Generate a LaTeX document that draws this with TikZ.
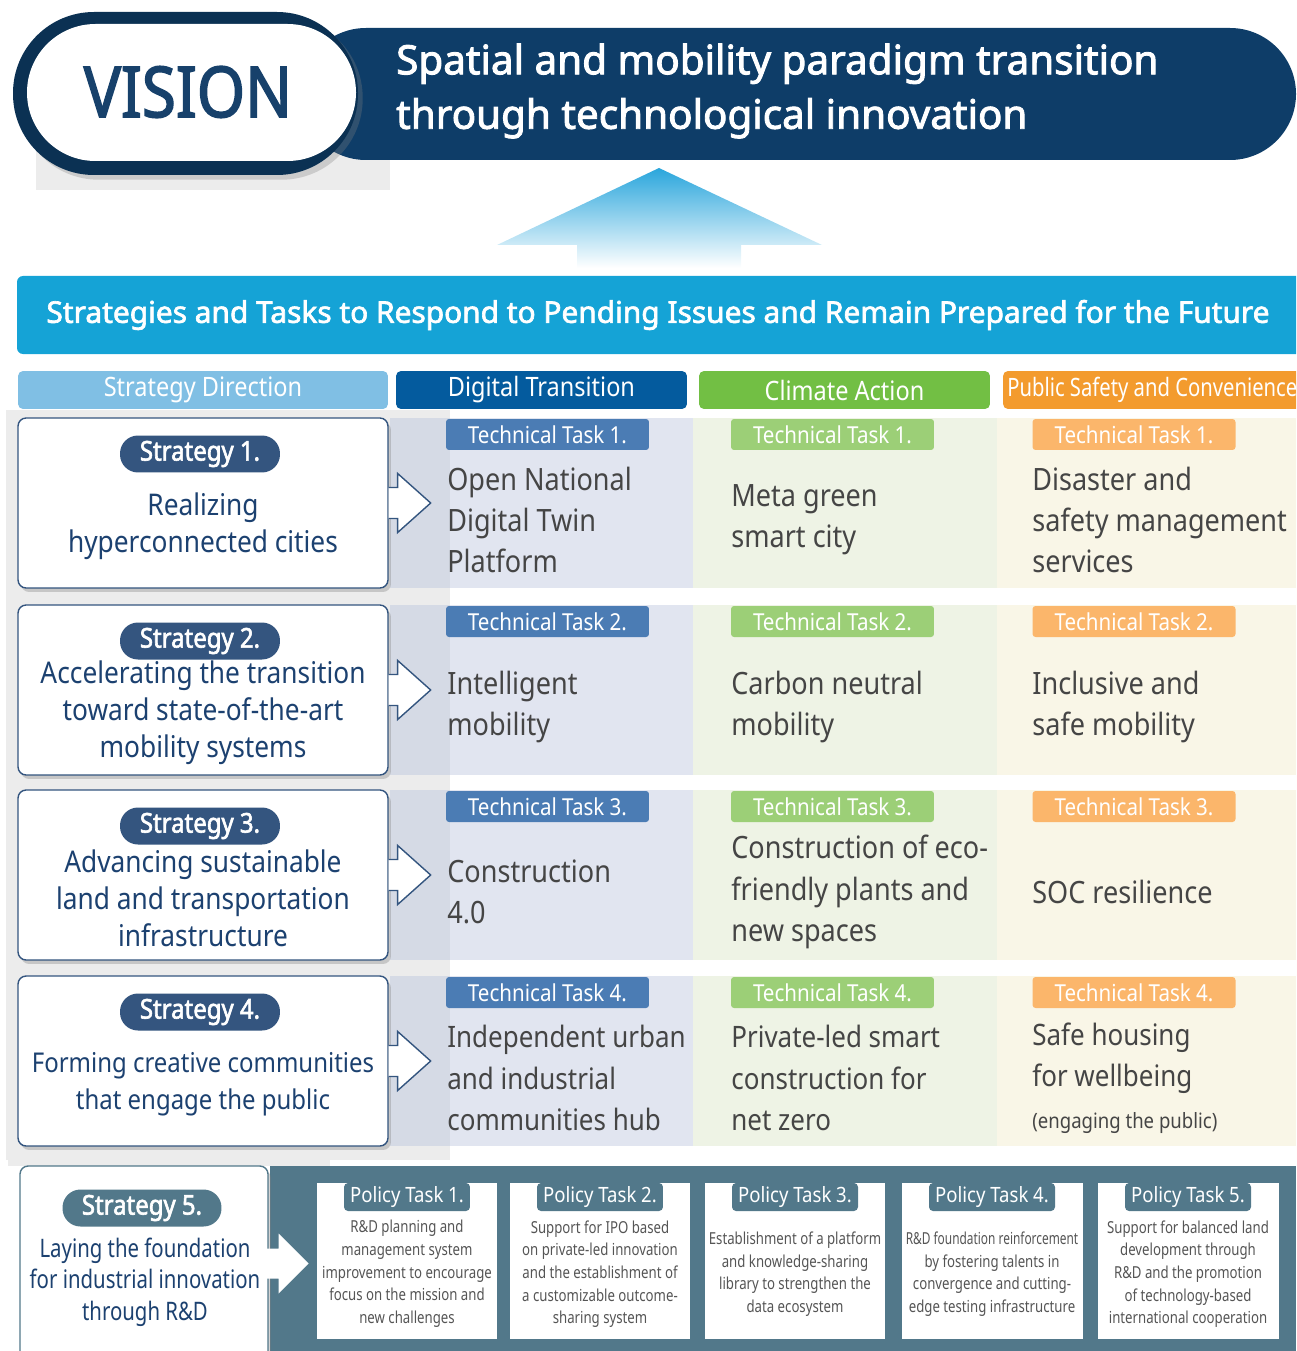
\documentclass[tikz,border=0pt]{standalone}
\usepackage{fontspec}
\setmainfont{Noto Sans}[FakeStretch=0.88, BoldFont={Noto Sans}, BoldFeatures={FakeBold=2.2, FakeStretch=0.88}]
\newfontfamily\widefont{Noto Sans}[FakeBold=2.2]
\newfontfamily\narrowfont{Noto Sans}[FakeStretch=0.8]
\newfontfamily\tightfont{Noto Sans}[FakeStretch=0.72]
\usetikzlibrary{positioning,shadows,calc}

\definecolor{navy}{HTML}{0E3D68}
\definecolor{visionblue}{HTML}{17416B}
\definecolor{barblue}{HTML}{15A3D6}
\definecolor{dirblue}{HTML}{80BFE4}
\definecolor{digblue}{HTML}{045B9E}
\definecolor{climgreen}{HTML}{72BF44}
\definecolor{pubor}{HTML}{F39B2E}
\definecolor{digtab}{HTML}{4B7CB4}
\definecolor{climtab}{HTML}{9CCF77}
\definecolor{pubtab}{HTML}{FBB66B}
\definecolor{digbg}{HTML}{E1E5F0}
\definecolor{digbgdark}{HTML}{D5DAE5}
\definecolor{climbg}{HTML}{EEF3E5}
\definecolor{pubbg}{HTML}{F9F6E7}
\definecolor{stratblue}{HTML}{1C4170}
\definecolor{pillblue}{HTML}{34557F}
\definecolor{taskgrey}{HTML}{454545}
\definecolor{slate}{HTML}{52788A}
\definecolor{leftgrey}{HTML}{ECECEC}
\definecolor{arrowtop}{HTML}{2AA6DC}
\definecolor{policygrey}{HTML}{555555}

\tikzset{
  stratbox/.style={draw=pillblue, line width=0.8pt, fill=white, rounded corners=0.16cm,
    minimum width=7.4cm, minimum height=3.4cm,
    drop shadow={shadow xshift=0.6mm, shadow yshift=-0.8mm, opacity=0.35}},
  pill/.style={fill=pillblue, text=white, rounded corners=0.36cm, minimum width=3.2cm,
    minimum height=0.74cm, inner sep=0pt, font=\fontsize{15.5}{15.5}\selectfont\bfseries},
  strattext/.style={text=stratblue, align=center},
  tasktab/.style={text=white, minimum width=4.06cm, minimum height=0.62cm, inner sep=0pt,
    rounded corners=0.06cm, font=\fontsize{13.3}{13.3}\selectfont},
  tasktext/.style={text=taskgrey, anchor=west, align=left, inner sep=0pt},
  colhead/.style={text=white, rounded corners=0.1cm, minimum height=0.76cm, inner sep=0pt,
    font=\fontsize{15.2}{15.2}\selectfont},
  blockarrow/.style={fill=white, draw=pillblue, line width=0.8pt, line join=miter},
  policybox/.style={fill=white, minimum width=3.62cm, minimum height=3.12cm, inner sep=0pt},
  policytab/.style={fill=slate, text=white, minimum width=2.52cm, minimum height=0.56cm,
    inner sep=0pt, rounded corners=0.08cm, font=\fontsize{12}{12}\selectfont},
  policytext/.style={text=policygrey, align=center, font=\narrowfont\fontsize{9.4}{12.9}\selectfont}
}

\begin{document}
\begin{tikzpicture}[x=0.02cm, y=-0.02cm]
\useasboundingbox (0,0) rectangle (1296,1351);
\clip (0,0) rectangle (1296,1351);

\fill[leftgrey] (36,40) rectangle (390,190);
\fill[navy, rounded corners=1.32cm] (300,28) rectangle (1296,160);
\fill[navy!80!black, rounded corners=1.62cm, drop shadow={opacity=0.3}] (13,12) rectangle (358,175);
\fill[white, rounded corners=1.37cm] (27,24) rectangle (356,161);
\node[text=visionblue, font=\fontsize{40}{40}\selectfont\bfseries] (vision) at (188,92) {VISION};
\node[anchor=west, text=white, align=left, font=\widefont\fontsize{23}{31}\selectfont] (visiontext) at (390,91)
  {Spatial and mobility paradigm transition\\through technological innovation};

\shade[top color=arrowtop, bottom color=white] (497,245) -- (659,168) -- (822,245) -- (741,245)
  -- (741,268) -- (577,268) -- (577,245) -- cycle;

\fill[barblue, rounded corners=0.12cm] (17,276) rectangle (1320,354);
\node[text=white, font=\widefont\fontsize{17}{17}\selectfont] (bartext) at (658,315)
  {Strategies and Tasks to Respond to Pending Issues and Remain Prepared for the Future};

\node[colhead, fill=dirblue, minimum width=7.4cm] (dirhead) at (203,390) {Strategy Direction};
\node[colhead, fill=digblue, minimum width=5.82cm] (dighead) at (541.5,390) {Digital Transition};
\node[colhead, fill=climgreen, minimum width=5.82cm] (climhead) at (844.5,390) {Climate Action};
\node[colhead, fill=pubor, minimum width=6.2cm] (pubhead) at (1158,390) {};
\node[text=white, anchor=west, inner sep=0pt, font=\narrowfont\fontsize{14.4}{14.4}\selectfont] (pubtext) at (1007,390)
  {Public Safety and Convenience};

\fill[leftgrey] (6,410) rectangle (450,1160);

\foreach \r/\top/\sfs/\tfs/\stext/\ta/\tb/\tc in {
  1/418/17/17.5/{Realizing\\hyperconnected cities}/{Open National\\Digital Twin\\Platform}/{Meta green\\smart city}/{Disaster and\\safety management\\services},
  2/605/17/17.5/{Accelerating the transition\\toward state-of-the-art\\mobility systems}/{Intelligent\\mobility}/{Carbon neutral\\mobility}/{Inclusive and\\safe mobility},
  3/790/17/17.5/{Advancing sustainable\\land and transportation\\infrastructure}/{Construction\\4.0}/{Construction of eco-\\friendly plants and\\new spaces}/{SOC resilience},
  4/976/15.5/16.8/{Forming creative communities\\that engage the public}/{Independent urban\\and industrial\\communities hub}/{Private-led smart\\construction for\\net zero}/{Safe housing\\for wellbeing\\{\fontsize{12}{20}\selectfont(engaging the public)}}}
{
  \fill[digbg] (390,\top) rectangle (693,{\top+170});
  \fill[digbgdark] (390,\top) rectangle (450,{\top+170});
  \fill[climbg] (693,\top) rectangle (997,{\top+170});
  \fill[pubbg] (997,\top) rectangle (1296,{\top+170});
  \node[stratbox] (s\r) at (203,{\top+85}) {};
  \node[pill] (p\r) at (200,{\top+36}) {Strategy \r.};
  \node[strattext, font=\fontsize{\sfs}{21}\selectfont] (st\r) at (203,{\top+108}) {\stext};
  \draw[blockarrow] ($(s\r.east)+(0,-15.5)$) -- ++(9,0) -- ++(0,-14) -- ($(s\r.east)+(42,0)$)
    -- ($(s\r.east)+(9,29.5)$) -- ++(0,-14) -- ++(-9,0);
  \node[tasktab, fill=digtab] (dt\r) at (547.5,{\top+16.5}) {Technical Task \r.};
  \node[tasktab, fill=climtab] (ct\r) at (832.5,{\top+16.5}) {Technical Task \r.};
  \node[tasktab, fill=pubtab] (pt\r) at (1134,{\top+16.5}) {Technical Task \r.};
  \node[tasktext, font=\fontsize{\tfs}{23.5}\selectfont] (dx\r) at (447,{\top+102}) {\ta};
  \node[tasktext, font=\fontsize{\tfs}{23.5}\selectfont] (cx\r) at (731,{\top+102}) {\tb};
  \node[tasktext, font=\fontsize{\tfs}{23.5}\selectfont] (px\r) at (1032,{\top+102}) {\tc};
}

\fill[leftgrey] (8,1156) rectangle (330,1166);
\fill[slate] (270,1166) rectangle (1296,1351);
\node[stratbox, draw=slate, minimum width=4.96cm, minimum height=3.9cm] (s5) at (144,1263.5) {};
\node[pill, fill=slate, minimum width=3.18cm] (p5) at (142,1208) {Strategy 5.};
\node[strattext, font=\narrowfont\fontsize{14.5}{18}\selectfont] (st5) at (145,1282)
  {Laying the foundation\\for industrial innovation\\through R\&D};
\fill[white] ($(s5.east)+(-2,-15)$) -- ++(12,0) -- ++(0,-15) -- ($(s5.east)+(40,0)$)
  -- ($(s5.east)+(10,30)$) -- ++(0,-15) -- ++(-12,0) -- cycle;

\foreach \i/\cx/\ptext in {
  1/407/{R\&D planning and\\management system\\improvement to encourage\\focus on the mission and\\new challenges},
  2/600/{Support for IPO based\\on private-led innovation\\and the establishment of\\a customizable outcome-\\sharing system},
  3/795/{Establishment of a platform\\and knowledge-sharing\\library to strengthen the\\data ecosystem},
  4/992/{{\tightfont R\&D foundation reinforcement}\\by fostering talents in\\convergence and cutting-\\edge testing infrastructure},
  5/1188/{Support for balanced land\\development through\\R\&D and the promotion\\of technology-based\\international cooperation}}
{
  \node[policybox] (pb\i) at (\cx,1261) {};
  \node[policytab] (ptab\i) at (\cx,1197) {Policy Task \i.};
  \node[policytext] (ptx\i) at (\cx,1274) {\ptext};
}
\end{tikzpicture}
\end{document}
